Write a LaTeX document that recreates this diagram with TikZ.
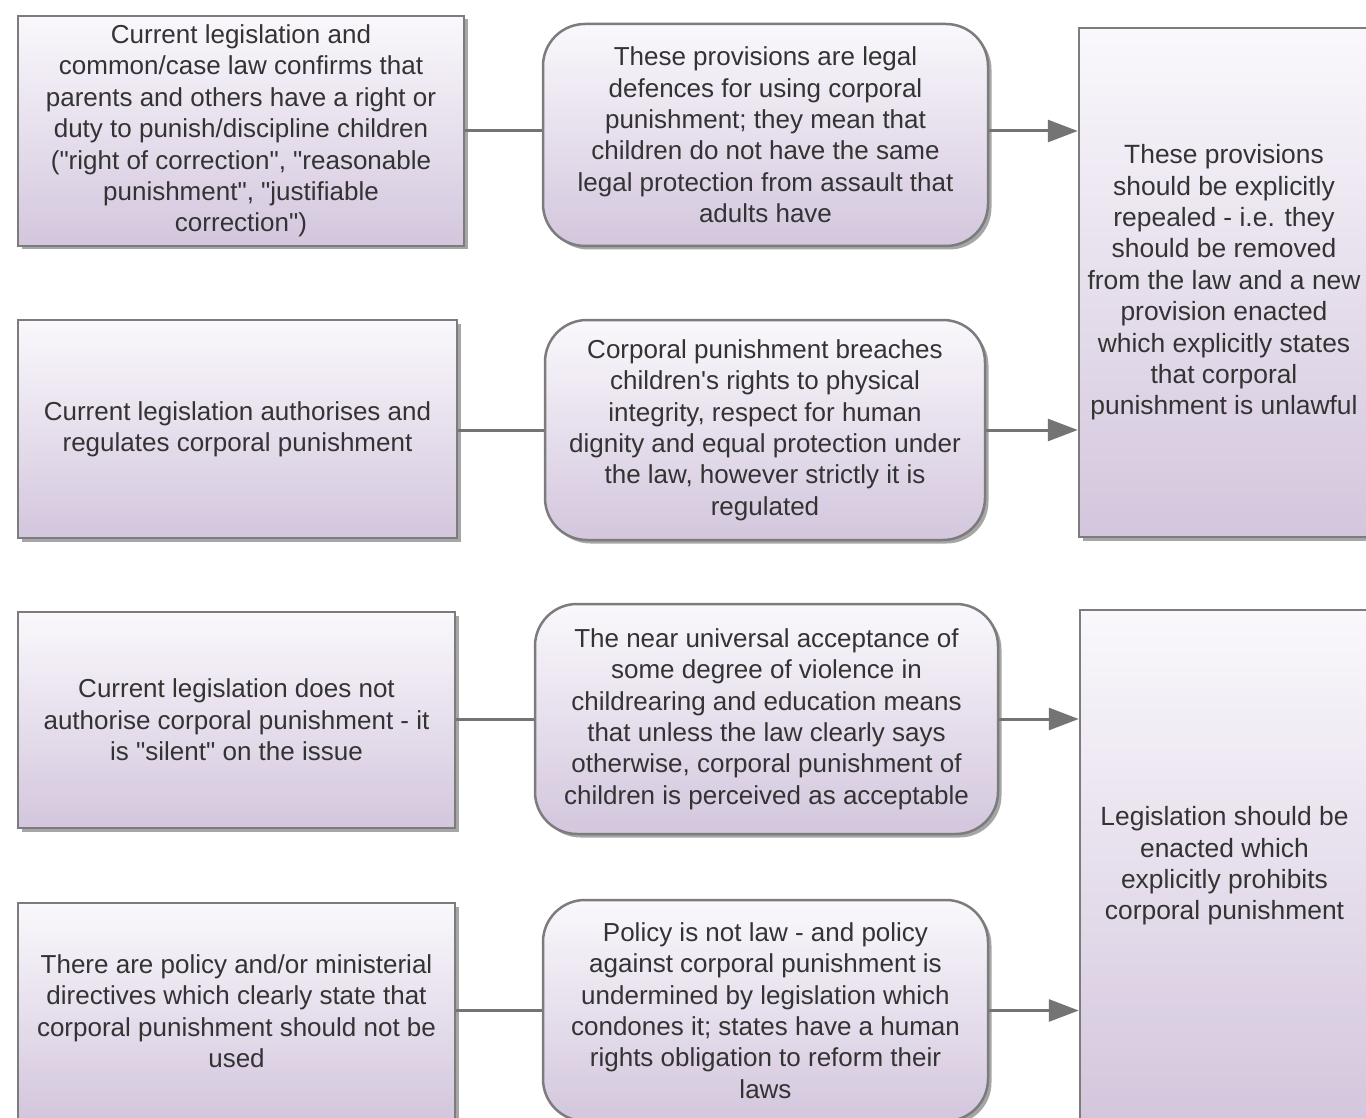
\documentclass[tikz,border=0pt]{standalone}
\usepackage{fontspec}
\setmainfont{Liberation Sans}[Ligatures=TeXOff]
\usetikzlibrary{arrows.meta,shadows}
\definecolor{txt}{HTML}{333333}
\definecolor{edge}{HTML}{7C7C7C}
\definecolor{topc}{HTML}{FAF8FC}
\definecolor{botc}{HTML}{D3C6DD}
\definecolor{arr}{HTML}{747474}
\begin{document}
\begin{tikzpicture}[x=1pt,y=-1pt,
  box/.style={draw=edge, line width=2.5pt, top color=topc, bottom color=botc,
    align=center, text=txt, font=\fontsize{26}{31.4}\selectfont, inner sep=0pt,
    drop shadow={shadow xshift=3.5pt, shadow yshift=-3.5pt, fill=black, opacity=0.35}},
  rbox/.style={box, rounded corners=42pt},
  link/.style={draw=arr, line width=3pt},
  arrow/.style={link, -{Triangle[length=30pt,width=22pt]}}]
\useasboundingbox (0,0) rectangle (1366,1118);
\clip (0,0) rectangle (1366,1118);
\fill[white] (0,0) rectangle (1366,1118);

% left column
\node[box, minimum width=446pt, minimum height=230pt] (L1) at (241,131)
  {Current legislation and\\ common/case law confirms that\\ parents and others have a right or\\ duty to punish/discipline children\\ ("right of correction", "reasonable\\ punishment", "justifiable\\ correction")};
\node[box, minimum width=439pt, minimum height=218pt] (L2) at (237.5,429)
  {Current legislation authorises and\\ regulates corporal punishment};
\node[box, minimum width=437pt, minimum height=216pt] (L3) at (236.5,720)
  {Current legislation does not\\ authorise corporal punishment - it\\ is "silent" on the issue};
\node[box, minimum width=437pt, minimum height=216pt] (L4) at (236.5,1011)
  {There are policy and/or ministerial\\ directives which clearly state that\\ corporal punishment should not be\\ used};

% middle column
\node[rbox, minimum width=445pt, minimum height=222pt] (M1) at (765.5,135)
  {These provisions are legal\\ defences for using corporal\\ punishment; they mean that\\ children do not have the same\\ legal protection from assault that\\ adults have};
\node[rbox, minimum width=440pt, minimum height=220pt] (M2) at (765,430)
  {Corporal punishment breaches\\ children's rights to physical\\ integrity, respect for human\\ dignity and equal protection under\\ the law, however strictly it is\\ regulated};
\node[rbox, minimum width=463pt, minimum height=230pt] (M3) at (766.5,719)
  {The near universal acceptance of\\ some degree of violence in\\ childrearing and education means\\ that unless the law clearly says\\ otherwise, corporal punishment of\\ children is perceived as acceptable};
\node[rbox, minimum width=445pt, minimum height=221pt] (M4) at (765.5,1010.5)
  {Policy is not law - and policy\\ against corporal punishment is\\ undermined by legislation which\\ condones it; states have a human\\ rights obligation to reform their\\ laws};

% right column
\node[box, minimum width=290pt, minimum height=509pt, font=\fontsize{26.4}{31.4}\selectfont] (R1) at (1224,282.5)
  {These provisions\\ should be explicitly\\ repealed - i.e. they\\ should be removed\\ from the law and a new\\ provision enacted\\ which explicitly states\\ that corporal\\ punishment is unlawful};
\node[box, minimum width=289pt, minimum height=512pt, font=\fontsize{26.4}{31.4}\selectfont] (R2) at (1224.5,866)
  {Legislation should be\\ enacted which\\ explicitly prohibits\\ corporal punishment};

% connectors
\draw[link] (L1.east) -- (L1.east -| M1.west);
\draw[link] (L2.east |- M2.west) -- (M2.west);
\draw[link] (L3.east |- M3.west) -- (M3.west);
\draw[link] (L4.east |- M4.west) -- (M4.west);
\draw[arrow] (L1.east -| M1.east) -- (L1.east -| R1.west);
\draw[arrow] (M2.east) -- (M2.east -| R1.west);
\draw[arrow] (M3.east) -- (M3.east -| R2.west);
\draw[arrow] (M4.east) -- (M4.east -| R2.west);
\end{tikzpicture}
\end{document}
